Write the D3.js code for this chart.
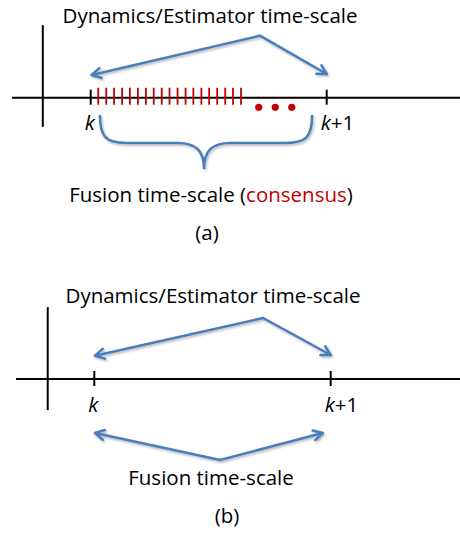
<!DOCTYPE html>
<html>
<head>
<meta charset="utf-8">
<script src="https://cdn.jsdelivr.net/npm/d3@7"></script>
<style>
  body { margin: 0; background: #fff; }
  text { font-family: "Open Sans", Lato, sans-serif; }
</style>
</head>
<body>
<div id="chart"></div>
<script>
// time is measured in estimator steps: k = 0, k+1 = 1
var stepTicks = [0, 1];
var stepLabels = ["k", "+1"];
// consensus iterations between k and k+1 (panel a)
var consensusTicks = [0.032, 0.066, 0.099, 0.133, 0.166, 0.200, 0.234, 0.267, 0.301, 0.334,
                      0.368, 0.402, 0.435, 0.469, 0.502, 0.536, 0.570, 0.603, 0.637];
var consensusDots = [0.712, 0.782, 0.852];
var titles = ["Dynamics/Estimator time-scale", "Dynamics/Estimator time-scale"];
var panelLabels = ["(a)", "(b)"];
// arrow polylines, [time, level] with level 1 = one unit above the axis
var dynArrowA = [[0.004, 0.366], [0.717, 1.0], [1.0, 0.382]];
var dynArrowB = [[0.003, 0.376], [0.714, 0.984], [1.0, 0.387]];
var fusionArrowB = [[0.003, -0.871], [0.532, -1.306], [0.966, -0.871]];
// brace under panel a: [left, tip, right] times and [top, middle, bottom] levels
var braceTimes = [0.039, 0.48, 0.938];
var braceLevels = [-0.28, -0.73, -1.15];

var blue = "#4a7ebb", red = "#c00000";
var fs = 20.5;

var svg = d3.select("#chart").append("svg")
  .attr("width", 460)
  .attr("height", 536);

var defs = svg.append("defs");
defs.append("filter").attr("id", "shadow")
  .attr("x", "-20%").attr("y", "-20%").attr("width", "140%").attr("height", "140%")
  .append("feDropShadow")
  .attr("dx", 1.2).attr("dy", 1.5).attr("stdDeviation", 1)
  .attr("flood-color", "#000").attr("flood-opacity", 0.3);
defs.append("marker").attr("id", "head")
  .attr("markerUnits", "userSpaceOnUse")
  .attr("viewBox", "-12 -8 14 16")
  .attr("markerWidth", 14).attr("markerHeight", 16)
  .attr("refX", 0).attr("refY", 0)
  .attr("orient", "auto")
  .append("path")
  .attr("d", "M-9,-5 L0,0 L-9,5")
  .attr("fill", "none").attr("stroke", blue)
  .attr("stroke-width", 2.5).attr("stroke-linecap", "round").attr("stroke-linejoin", "round");

// one panel: scales, axis, ticks and labels
function panel(axisY, x0, x1, xStart, yAxisT, yAxisTop, yAxisBottom) {
  var x = d3.scaleLinear().domain([0, 1]).range([x0, x1]);
  var y = d3.scaleLinear().domain([0, 1]).range([axisY, axisY - 62]);
  var g = svg.append("g");

  g.append("line")
    .attr("x1", xStart).attr("x2", 460)
    .attr("y1", y(0)).attr("y2", y(0))
    .attr("stroke", "#000").attr("stroke-width", 2);
  g.append("line")
    .attr("x1", x(yAxisT)).attr("x2", x(yAxisT))
    .attr("y1", y(yAxisTop)).attr("y2", y(yAxisBottom))
    .attr("stroke", "#000").attr("stroke-width", 2);

  g.selectAll(".step").data(stepTicks).enter().append("line")
    .attr("x1", d => x(d)).attr("x2", d => x(d))
    .attr("y1", y(0) - 8).attr("y2", y(0) + 7)
    .attr("stroke", "#000").attr("stroke-width", 2);

  return { g: g, x: x, y: y };
}

function arrow(p, pts) {
  var line = d3.line().x(d => p.x(d[0])).y(d => p.y(d[1]));
  var a = p.g.append("g").attr("filter", "url(#shadow)");
  [[pts[1], pts[0]], [pts[1], pts[2]]].forEach(function (seg) {
    a.append("path")
      .attr("d", line(seg))
      .attr("fill", "none").attr("stroke", blue)
      .attr("stroke-width", 2.5).attr("stroke-linecap", "round")
      .attr("marker-end", "url(#head)");
  });
}

function stepText(p, baseline) {
  p.g.append("text")
    .attr("x", p.x(stepTicks[0]) - 1).attr("y", baseline)
    .attr("text-anchor", "middle")
    .attr("font-size", fs).attr("font-style", "italic")
    .text(stepLabels[0]);
  var t = p.g.append("text")
    .attr("x", p.x(stepTicks[1]) - 6).attr("y", baseline)
    .attr("font-size", fs);
  t.append("tspan").attr("font-style", "italic").text(stepLabels[0]);
  t.append("tspan").text(stepLabels[1]);
}

function label(txt, cx, baseline) {
  return svg.append("text")
    .attr("x", cx).attr("y", baseline)
    .attr("text-anchor", "middle")
    .attr("font-size", fs)
    .text(txt);
}

// ---- panel (a)
var pa = panel(97.7, 90.7, 326.7, 12, -0.203, 1.17, -0.47);

pa.g.selectAll(".cons").data(consensusTicks).enter().append("line")
  .attr("x1", d => pa.x(d)).attr("x2", d => pa.x(d))
  .attr("y1", pa.y(0) - 10).attr("y2", pa.y(0) + 7)
  .attr("stroke", red).attr("stroke-width", 1.8);

pa.g.selectAll(".dot").data(consensusDots).enter().append("circle")
  .attr("cx", d => pa.x(d)).attr("cy", pa.y(-0.155))
  .attr("r", 3.6).attr("fill", red);

arrow(pa, dynArrowA);

var bl = pa.x(braceTimes[0]), bt = pa.x(braceTimes[1]), br = pa.x(braceTimes[2]);
var yTop = pa.y(braceLevels[0]), yMid = pa.y(braceLevels[1]), yBot = pa.y(braceLevels[2]);
var bp = d3.path();
bp.moveTo(bl, yTop);
bp.bezierCurveTo(bl, yMid - 6, bl + 6, yMid, bl + 26, yMid);
bp.lineTo(bt - 26, yMid);
bp.bezierCurveTo(bt - 8, yMid, bt, yMid + 8, bt, yBot);
bp.bezierCurveTo(bt, yMid + 8, bt + 8, yMid, bt + 26, yMid);
bp.lineTo(br - 26, yMid);
bp.bezierCurveTo(br - 6, yMid, br, yMid - 6, br, yTop);
pa.g.append("path")
  .attr("d", bp.toString())
  .attr("fill", "none").attr("stroke", blue).attr("stroke-width", 2.5)
  .attr("filter", "url(#shadow)");

stepText(pa, 130);
label(titles[0], 210, 23);
var fa = label("", 211, 201.5);
fa.append("tspan").text("Fusion time-scale (");
fa.append("tspan").attr("fill", red).text("consensus");
fa.append("tspan").text(")");
label(panelLabels[0], 207, 240);

// ---- panel (b)
var pb = panel(379, 94.3, 330.7, 16, -0.197, 1.16, -0.5);
arrow(pb, dynArrowB);
arrow(pb, fusionArrowB);
stepText(pb, 411.7);
label(titles[1], 213, 303);
label("Fusion time-scale", 211, 485);
label(panelLabels[1], 227, 523);
</script>
</body>
</html>
